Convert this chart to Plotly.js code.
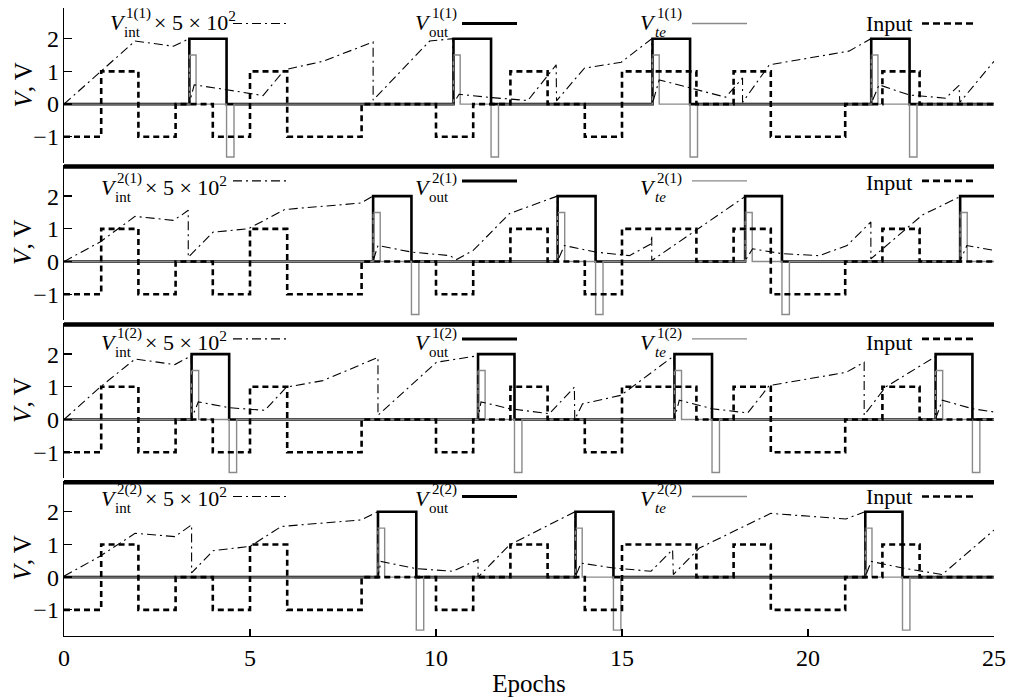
<!DOCTYPE html>
<html>
<head>
<meta charset="utf-8">
<script src="https://cdn.plot.ly/plotly-3.0.1.min.js"></script>
<style>html,body{margin:0;padding:0;background:#fff;}#chart{width:1010px;height:700px;}</style>
</head>
<body>
<div id="chart"></div>
<script>
// ---------------- data ----------------
// Input signal (same in all four panels): level held from each epoch until the next
const inputEpochs = [0, 1, 2, 3, 4, 5, 6, 8, 10, 11, 12, 13, 14, 15, 17, 18, 19, 21, 22, 23, 25];
const inputLevels = [-1, 1, -1, 0, -1, 1, -1, 0, -1, 0, 1, 0, -1, 1, 0, 1, -1, 0, 1, 0, 0];

// Panel labels (superscripts)
const panelLabels = ['1(1)', '2(1)', '1(2)', '2(2)'];

// V_out (held values)
const vout1X = [0, 3.37, 4.37, 10.47, 11.48, 15.82, 16.83, 21.7, 22.73, 25];
const vout1Y = [0, 2, 0, 2, 0, 2, 0, 2, 0, 0];
const vout2X = [0, 8.31, 9.34, 13.27, 14.29, 18.31, 19.3, 24.09, 25];
const vout2Y = [0, 2, 0, 2, 0, 2, 0, 2, 2];
const vout3X = [0, 3.43, 4.44, 11.13, 12.11, 16.41, 17.42, 23.43, 24.42, 25];
const vout3Y = [0, 2, 0, 2, 0, 2, 0, 2, 0, 0];
const vout4X = [0, 8.44, 9.47, 13.75, 14.77, 21.54, 22.54, 25];
const vout4Y = [0, 2, 0, 2, 0, 2, 0, 0];

// V_te (held values)
const vte1X = [0, 3.37, 3.55, 4.37, 4.57, 10.47, 10.65, 11.48, 11.68, 15.82, 16.0, 16.83, 17.03, 21.7, 21.88, 22.73, 22.93, 25];
const vte1Y = [0, 1.5, 0, -1.62, 0, 1.5, 0, -1.62, 0, 1.5, 0, -1.62, 0, 1.5, 0, -1.62, 0, 0];
const vte2X = [0, 8.31, 8.5, 9.34, 9.54, 13.27, 13.46, 14.29, 14.49, 18.31, 18.5, 19.3, 19.5, 24.09, 24.28, 25];
const vte2Y = [0, 1.5, 0, -1.62, 0, 1.5, 0, -1.62, 0, 1.5, 0, -1.62, 0, 1.5, 0, 0];
const vte3X = [0, 3.43, 3.62, 4.44, 4.64, 11.13, 11.32, 12.11, 12.31, 16.41, 16.6, 17.42, 17.62, 23.43, 23.62, 24.42, 24.62, 25];
const vte3Y = [0, 1.5, 0, -1.62, 0, 1.5, 0, -1.62, 0, 1.5, 0, -1.62, 0, 1.5, 0, -1.62, 0, 0];
const vte4X = [0, 8.44, 8.62, 9.47, 9.67, 13.75, 13.93, 14.77, 14.97, 21.54, 21.72, 22.54, 22.74, 25];
const vte4Y = [0, 1.5, 0, -1.62, 0, 1.5, 0, -1.62, 0, 1.5, 0, -1.62, 0, 0];

// V_int x 5e2 (dash-dot)
const vint1X = [0, 1.0, 1.91, 2.94, 3.36, 3.37, 3.5, 4.37, 5.35, 5.93, 6.96, 8.31, 8.31, 9.83, 10.45, 10.47, 10.62, 11.48, 12.47, 13.23, 13.24, 13.99, 14.98, 15.8, 15.82, 16.0, 16.84, 17.79, 18.24, 18.24, 18.96, 21.1, 21.69, 21.7, 21.91, 22.72, 23.7, 24.06, 24.08, 25];
const vint1Y = [0, 1.0, 1.93, 1.77, 2.0, 0.02, 0.59, 0.44, 0.26, 1.05, 1.31, 1.9, 0.12, 1.93, 2.0, 0.02, 0.3, 0.2, 0.11, 1.2, 0.1, 1.1, 1.28, 2.0, 0.02, 0.74, 0.49, 0.21, 0.8, 0.05, 1.2, 1.62, 2.0, 0.02, 0.59, 0.28, 0.18, 0.57, 0.05, 1.31];
const vint2X = [0, 0.97, 1.91, 2.94, 3.16, 3.34, 3.34, 4.01, 4.95, 5.93, 7.99, 8.3, 8.31, 8.44, 9.34, 10.37, 10.55, 11.0, 11.98, 13.05, 13.26, 13.27, 13.45, 14.29, 15.2, 15.78, 15.8, 15.8, 17.03, 18.3, 18.31, 18.51, 19.3, 20.3, 21.05, 21.69, 21.69, 23.07, 24.08, 24.09, 24.27, 25];
const vint2Y = [0, 0.6, 1.38, 1.26, 1.42, 1.57, 0.13, 0.9, 1.0, 1.59, 1.79, 2.0, 0.02, 0.49, 0.29, 0.18, 0.06, 0.34, 1.47, 1.93, 2.0, 0.02, 0.49, 0.29, 0.18, 0.54, 0.8, 0.03, 1.0, 1.98, 0.02, 0.39, 0.24, 0.18, 0.49, 1.21, 0.08, 1.42, 1.98, 0.02, 0.49, 0.34];
const vint3X = [0, 0.97, 1.91, 2.98, 3.42, 3.43, 3.61, 4.45, 5.4, 5.98, 6.96, 8.44, 8.44, 10.01, 11.12, 11.13, 11.21, 11.98, 13.05, 13.72, 13.73, 13.94, 14.97, 16.4, 16.41, 16.54, 17.42, 18.38, 18.96, 21.02, 21.51, 21.51, 22.08, 23.42, 23.43, 23.61, 24.42, 25];
const vint3Y = [0, 0.99, 1.85, 1.68, 1.95, 0.02, 0.54, 0.36, 0.28, 0.99, 1.19, 1.9, 0.13, 1.75, 1.95, 0.02, 0.54, 0.33, 0.18, 0.99, 0.0, 0.48, 0.74, 1.95, 0.02, 0.59, 0.33, 0.2, 1.04, 1.44, 1.75, 0.13, 0.99, 1.92, 0.02, 0.59, 0.33, 0.23];
const vint4X = [0, 0.97, 1.91, 2.98, 3.43, 3.43, 4.01, 5.0, 5.84, 7.99, 8.43, 8.44, 8.52, 9.47, 10.45, 11.13, 11.13, 11.98, 13.74, 13.75, 13.9, 14.77, 15.78, 16.36, 16.38, 17.08, 19.0, 21.02, 21.53, 21.54, 21.7, 22.54, 23.61, 25];
const vint4Y = [0.03, 0.64, 1.34, 1.24, 1.6, 0.13, 0.81, 0.94, 1.55, 1.75, 2.0, 0.02, 0.48, 0.26, 0.18, 0.54, 0.0, 0.99, 2.0, 0.02, 0.43, 0.28, 0.18, 0.84, 0.08, 0.89, 1.95, 1.78, 2.0, 0.02, 0.48, 0.28, 0.08, 1.44];

// Axis ticks
const xTickVals = [0, 5, 10, 15, 20, 25];
const yTickVals = [-1, 0, 1, 2];
const yTickText = ['\u22121', '0', '1', '2'];

// ---------------- build ----------------
const FONT = '"Liberation Serif", "Times New Roman", Times, serif';
const GRAY = '#8a8a8a';
const panels = [
  {vo: [vout1X, vout1Y], vt: [vte1X, vte1Y], vi: [vint1X, vint1Y]},
  {vo: [vout2X, vout2Y], vt: [vte2X, vte2Y], vi: [vint2X, vint2Y]},
  {vo: [vout3X, vout3Y], vt: [vte3X, vte3Y], vi: [vint3X, vint3Y]},
  {vo: [vout4X, vout4Y], vt: [vte4X, vte4Y], vi: [vint4X, vint4Y]}
];
const domains = [[0.7533, 1.0], [0.5025, 0.7494], [0.251, 0.4978], [0, 0.2468]];
const PANEL_H = 155;

const traces = [];
panels.forEach((p, i) => {
  const ya = i === 0 ? 'y' : 'y' + (i + 1);
  traces.push({x: p.vo[0], y: p.vo[1], xaxis: 'x', yaxis: ya, mode: 'lines', line: {shape: 'hv', color: '#000', width: 2.6}, name: 'V_out', hoverinfo: 'skip'});
  traces.push({x: p.vt[0], y: p.vt[1], xaxis: 'x', yaxis: ya, mode: 'lines', line: {shape: 'hv', color: GRAY, width: 1.4}, name: 'V_te', hoverinfo: 'skip'});
  traces.push({x: inputEpochs, y: inputLevels, xaxis: 'x', yaxis: ya, mode: 'lines', line: {shape: 'hv', color: '#000', width: 2.6, dash: '6px,4px'}, name: 'Input', hoverinfo: 'skip'});
  traces.push({x: p.vi[0], y: p.vi[1], xaxis: 'x', yaxis: ya, mode: 'lines', line: {color: '#000', width: 1.1, dash: '9px,4px,2px,4px'}, name: 'V_int', hoverinfo: 'skip'});
});

const PX = px => (px - 64) / 930;
const YF = rel => 1 - rel / PANEL_H;

const layout = {
  width: 1010, height: 700,
  margin: {l: 64, r: 16, t: 8, b: 64},
  paper_bgcolor: '#fff', plot_bgcolor: '#fff',
  showlegend: false,
  font: {family: FONT, color: '#000'},
  xaxis: {
    anchor: 'y4', domain: [0, 1], range: [0, 25],
    showline: true, linecolor: '#000', linewidth: 1.3,
    ticks: 'inside', ticklen: 7, tickwidth: 1.3, tickcolor: '#000',
    tickvals: xTickVals, tickfont: {size: 24, family: FONT},
    showgrid: false, zeroline: false,
    title: {text: 'Epochs', font: {size: 25, family: FONT}, standoff: 4}
  },
  shapes: [],
  annotations: []
};

// thick separators between panels
[166.5, 324.5, 482.3].forEach(py => {
  const yp = (636 - py) / 628;
  layout.shapes.push({type: 'line', xref: 'paper', yref: 'paper', x0: 0, x1: 1, y0: yp, y1: yp, line: {color: '#000', width: 4.5}});
});

const vBase = [22, 29.5, 26.5, 25];
const inBase = [23, 25, 26.5, 23.5];
const intShift = [9, 0, 0, 0];

function textAnn(yref, leftPx, baseRel, size, text, italic) {
  return {
    xref: 'paper', yref: yref,
    x: PX(leftPx), y: YF(baseRel + 0.216 * size),
    xanchor: 'left', yanchor: 'bottom',
    text: italic ? '<i>' + text + '</i>' : text,
    showarrow: false, borderpad: 0, borderwidth: 0,
    font: {size: size, family: FONT, color: '#000'}
  };
}

panels.forEach((p, i) => {
  const k = i + 1;
  const key = k === 1 ? 'yaxis' : 'yaxis' + k;
  layout[key] = {
    domain: domains[i], anchor: 'x', range: [-1.8, 2.94],
    showline: true, linecolor: '#000', linewidth: 1.3,
    ticks: 'inside', ticklen: 8, tickwidth: 1.3, tickcolor: '#000',
    tickvals: yTickVals, ticktext: yTickText, tickfont: {size: 24, family: FONT},
    ticklabelstandoff: -1,
    showgrid: false, zeroline: false
  };
  const yref = k === 1 ? 'y domain' : 'y' + k + ' domain';
  // y-axis title of the panel
  layout.annotations.push({
    xref: 'paper', yref: yref, x: PX(23), y: 0.5, xanchor: 'center', yanchor: 'middle',
    textangle: -90, text: '<i>V</i>, V', showarrow: false, borderpad: 0, borderwidth: 0,
    font: {size: 25, family: FONT, color: '#000'}
  });
  const sampleY = YF(15.5);
  // legend samples
  layout.shapes.push({type: 'line', xref: 'paper', yref: yref, x0: PX(233), x1: PX(288), y0: sampleY, y1: sampleY, line: {color: '#000', width: 1.1, dash: '9px,4px,2px,4px'}});
  layout.shapes.push({type: 'line', xref: 'paper', yref: yref, x0: PX(462), x1: PX(517), y0: sampleY, y1: sampleY, line: {color: '#000', width: 3}});
  layout.shapes.push({type: 'line', xref: 'paper', yref: yref, x0: PX(692), x1: PX(747), y0: sampleY, y1: sampleY, line: {color: GRAY, width: 1.3}});
  layout.shapes.push({type: 'line', xref: 'paper', yref: yref, x0: PX(922), x1: PX(977), y0: sampleY, y1: sampleY, line: {color: '#000', width: 2.6, dash: '7px,4px'}});
  const b = vBase[i];
  const s = intShift[i];
  const lab = panelLabels[i];
  // V_int label
  layout.annotations.push(textAnn(yref, 101 + s, b, 22, 'V', true));
  layout.annotations.push(textAnn(yref, 117 + s, b - 11, 15, lab, false));
  layout.annotations.push(textAnn(yref, 115 + s, b + 7, 15, 'int', false));
  layout.annotations.push(textAnn(yref, 145 + s, b, 22, '\u00d7 5 \u00d7 10<sup>2</sup>', false));
  // V_out label
  layout.annotations.push(textAnn(yref, 415, b, 22, 'V', true));
  layout.annotations.push(textAnn(yref, 432, b - 11, 15, lab, false));
  layout.annotations.push(textAnn(yref, 429, b + 7, 15, 'out', false));
  // V_te label
  layout.annotations.push(textAnn(yref, 640, b, 22, 'V', true));
  layout.annotations.push(textAnn(yref, 657, b - 11, 15, lab, false));
  layout.annotations.push(textAnn(yref, 655, b + 7, 15, 'te', true));
  // Input label
  layout.annotations.push(textAnn(yref, 866, inBase[i], 22, 'Input', false));
});

Plotly.newPlot('chart', traces, layout, {displayModeBar: false, staticPlot: true});
</script>
</body>
</html>
